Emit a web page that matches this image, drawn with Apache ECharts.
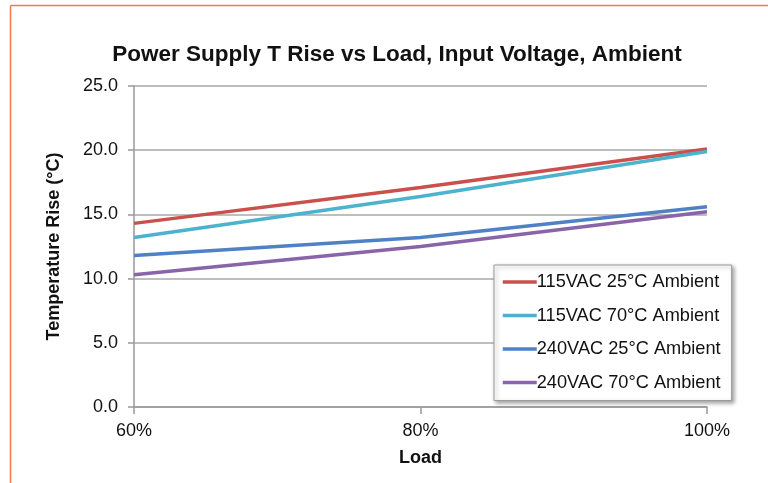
<!DOCTYPE html>
<html>
<head>
<meta charset="utf-8">
<script src="https://cdn.jsdelivr.net/npm/echarts@6/dist/echarts.min.js"></script>
<style>
  html, body { margin: 0; padding: 0; background: #fff; }
  #chart { width: 768px; height: 483px; }
</style>
</head>
<body>
<div id="chart"></div>
<script>
// Load points (% of rated load)
const loads = [60, 80, 100];
// Temperature rise (°C) for each input voltage / ambient combination
const rise115v25c = [14.3, 17.1, 20.1];
const rise115v70c = [13.2, 16.4, 19.9];
const rise240v25c = [11.8, 13.2, 15.6];
const rise240v70c = [10.3, 12.5, 15.2];
const seriesNames = [
  '115VAC 25°C Ambient',
  '115VAC 70°C Ambient',
  '240VAC 25°C Ambient',
  '240VAC 70°C Ambient'
];
const seriesColors = ['#c9504d', '#4bb3cc', '#4f81c4', '#8a64a8'];
const seriesValues = [rise115v25c, rise115v70c, rise240v25c, rise240v70c];

const font = 'Liberation Sans, Arial, Helvetica, sans-serif';
const chart = echarts.init(document.getElementById('chart'));

chart.setOption({
  backgroundColor: '#fff',
  animation: false,
  textStyle: { fontFamily: font },
  title: {
    text: 'Power Supply T Rise vs Load, Input Voltage, Ambient',
    left: 392, top: 38, textAlign: 'center',
    textStyle: { fontFamily: font, fontSize: 22.5, fontWeight: 'bold', color: '#111' }
  },
  graphic: [
    { type: 'line', shape: { x1: 10.5, y1: 5.5, x2: 768, y2: 5.5 }, style: { stroke: '#ef7a4a', lineWidth: 1.5 } },
    { type: 'line', shape: { x1: 10.5, y1: 5.5, x2: 10.5, y2: 483 }, style: { stroke: '#ef7a4a', lineWidth: 1.5 } }
  ],
  grid: { left: 134, right: 61, top: 86, bottom: 76 },
  xAxis: {
    type: 'value', min: 60, max: 100, interval: 20,
    name: 'Load', nameLocation: 'middle', nameGap: 42,
    nameTextStyle: { fontFamily: font, fontSize: 18, fontWeight: 'bold', color: '#111' },
    axisLine: { lineStyle: { color: '#999', width: 1.5 } },
    axisTick: { show: true, length: 7, lineStyle: { color: '#999', width: 1.5 } },
    axisLabel: { formatter: v => v + '%', fontSize: 18, color: '#111', margin: 15, fontFamily: font },
    splitLine: { show: false }
  },
  yAxis: {
    type: 'value', min: 0, max: 25, interval: 5,
    name: 'Temperature Rise (°C)', nameLocation: 'middle', nameGap: 71,
    nameTextStyle: { fontFamily: font, fontSize: 18, fontWeight: 'bold', color: '#111' },
    axisLine: { show: true, lineStyle: { color: '#999', width: 1.5 } },
    axisTick: { show: true, length: 6, lineStyle: { color: '#999', width: 1.5 } },
    axisLabel: { formatter: v => v.toFixed(1), fontSize: 18, color: '#111', margin: 16, fontFamily: font },
    splitLine: { show: true, lineStyle: { color: '#a8a8a8', width: 1.5 } }
  },
  legend: {
    orient: 'vertical',
    left: 494, top: 265,
    padding: [8, 11, 9, 7],
    itemWidth: 34, itemHeight: 18, itemGap: 15.5,
    backgroundColor: '#fff',
    borderColor: '#9a9a9a', borderWidth: 1,
    shadowColor: 'rgba(0,0,0,0.35)', shadowBlur: 4, shadowOffsetX: 2, shadowOffsetY: 2,
    itemStyle: { opacity: 0 },
    lineStyle: { width: 3.5 },
    textStyle: { fontFamily: font, fontSize: 18.2, color: '#111', padding: [0, 0, 0, -5] },
    data: seriesNames
  },
  series: seriesNames.map((n, i) => ({
    name: n,
    type: 'line',
    data: loads.map((x, j) => [x, seriesValues[i][j]]),
    showSymbol: false,
    symbol: 'none',
    lineStyle: { color: seriesColors[i], width: 3.5 },
    itemStyle: { color: seriesColors[i] }
  }))
});
</script>
</body>
</html>
